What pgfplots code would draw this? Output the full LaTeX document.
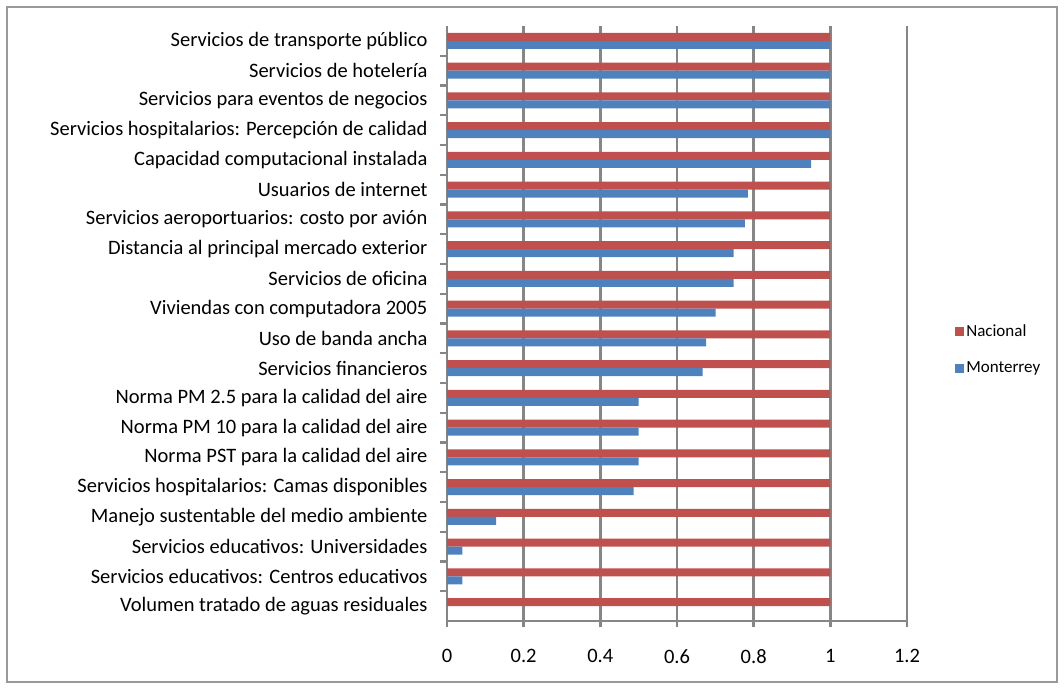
\documentclass[border=0pt]{standalone}
\usepackage{pgfplots}
\pgfplotsset{compat=1.18}
\usepackage{fontspec}
\setmainfont{Carlito}
\definecolor{nacRed}{RGB}{192,80,77}
\definecolor{mtyBlue}{RGB}{79,129,189}
\definecolor{gridGray}{RGB}{134,134,134}

\pgfplotstableread{
pos nacional monterrey
0  1 0
1  1 0.04
2  1 0.04
3  1 0.128
4  1 0.487
5  1 0.5
6  1 0.5
7  1 0.5
8  1 0.667
9  1 0.676
10 1 0.701
11 1 0.748
12 1 0.748
13 1 0.777
14 1 0.785
15 1 0.950
16 1 1
17 1 1
18 1 1
19 1 1
}\datatable

\begin{document}
\begin{tikzpicture}
\useasboundingbox (-447pt,-68pt) rectangle (617pt,621pt);
\begin{axis}[
    at={(0pt,0pt)}, anchor=south west,
    width=460pt, height=595pt, scale only axis,
    xbar, bar width=8pt,
    xmin=0, xmax=1.2,
    ymin=-0.5, ymax=19.5,
    xtick={0,0.2,...,1.2},
    xticklabels={0,0.2,0.4,0.6,0.8,1,1.2},
    ytick={0,...,19},
    minor y tick num=1,
    yticklabels={
        Volumen tratado de aguas residuales,
        Servicios educativos: Centros educativos,
        Servicios educativos: Universidades,
        Manejo sustentable del medio ambiente,
        Servicios hospitalarios: Camas disponibles,
        Norma PST para la calidad del aire,
        Norma PM 10 para la calidad del aire,
        Norma PM 2.5 para la calidad del aire,
        Servicios financieros,
        Uso de banda ancha,
        Viviendas con computadora 2005,
        Servicios de oficina,
        Distancia al principal mercado exterior,
        Servicios aeroportuarios: costo por avión,
        Usuarios de internet,
        Capacidad computacional instalada,
        Servicios hospitalarios: Percepción de calidad,
        Servicios para eventos de negocios,
        Servicios de hotelería,
        Servicios de transporte público},
    axis x line*=bottom,
    axis y line*=left,
    axis line style={gridGray, line width=2.4pt, -},
    xmajorgrids,
    major grid style={gridGray, line width=2.4pt},
    tick align=outside,
    major tick length=6pt,
    minor tick length=7pt,
    tick style={gridGray, line width=2.4pt},
    major y tick style={draw=none},
    ticklabel style={font=\fontsize{20.5}{24}\selectfont},
    /pgf/number format/assume math mode=true,
    xticklabel style={yshift=-19pt},
    yticklabel style={xshift=-10pt},
    legend style={at={(1.098,0.505)}, anchor=north west, draw=none,
        font=\fontsize{17}{20}\selectfont, row sep=20pt,
        legend cell align=left},
    legend image code/.code={\fill[#1] (0pt,-4.5pt) rectangle (9pt,4.5pt);},
]
\addplot[fill=nacRed, draw=none, bar shift=4pt] table[x=nacional, y=pos] {\datatable};
\addlegendentry{Nacional}
\addplot[fill=mtyBlue, draw=none, bar shift=-4pt] table[x=monterrey, y=pos] {\datatable};
\addlegendentry{Monterrey}
\end{axis}
\draw[gray!80, line width=1.2pt] (-440pt,-61pt) rectangle (610pt,614pt);
\end{tikzpicture}
\end{document}
